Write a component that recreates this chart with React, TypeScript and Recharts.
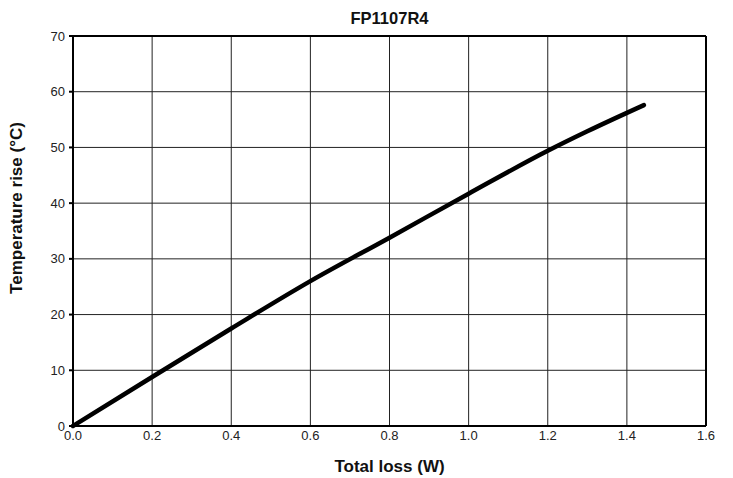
import React from "react";
import { LineChart, Line, XAxis, YAxis, CartesianGrid, ReferenceLine } from "recharts";

const lossW = [0, 0.2, 0.4, 0.6, 0.8, 1.0, 1.2, 1.3, 1.443];
const tempRise = [0, 8.8, 17.5, 26.0, 33.8, 41.7, 49.4, 52.9, 57.6];
const xTicks = [0, 0.2, 0.4, 0.6, 0.8, 1.0, 1.2, 1.4, 1.6];
const yTicks = [0, 10, 20, 30, 40, 50, 60, 70];
const title = "FP1107R4";
const xLabel = "Total loss (W)";
const yLabel = "Temperature rise (°C)";

const data = lossW.map((x, i) => ({ x, y: tempRise[i] }));
const FONT = "'Liberation Sans', Arial, sans-serif";

export default function App() {
  return (
    <div style={{ position: "absolute", left: 0, top: 0, width: 733, height: 478, background: "#fff", fontFamily: FONT }}>
      <div
        style={{
          position: "absolute",
          left: 73,
          width: 633,
          top: 8,
          lineHeight: "20px",
          textAlign: "center",
          fontWeight: "bold",
          fontSize: 16.5,
          color: "#111",
        }}
      >
        {title}
      </div>
      <LineChart width={733} height={478} data={data} margin={{ top: 36, right: 27, bottom: 0, left: 0 }}>
        <CartesianGrid stroke="#222" strokeWidth={1} horizontal vertical />
        <XAxis
          dataKey="x"
          type="number"
          domain={[0, 1.6]}
          ticks={xTicks}
          tickFormatter={(v: number) => v.toFixed(1)}
          height={52}
          stroke="#000"
          strokeWidth={2}
          tickSize={0}
          tick={{ fill: "#222", fontSize: 13, fontFamily: FONT, dy: 3 }}
          label={{
            value: xLabel,
            position: "insideBottom",
            offset: 6,
            style: { fontWeight: "bold", fontSize: 17, fill: "#111", fontFamily: FONT },
          }}
        />
        <YAxis
          type="number"
          domain={[0, 70]}
          ticks={yTicks}
          width={73}
          stroke="#000"
          strokeWidth={2}
          tickSize={4}
          tickMargin={4}
          tick={{ fill: "#222", fontSize: 13, fontFamily: FONT }}
          label={{
            content: ({ viewBox }: any) => {
              const cy = viewBox.y + viewBox.height / 2 - 23;
              return (
                <text
                  x={16}
                  y={cy}
                  transform={`rotate(-90 16 ${cy})`}
                  textAnchor="middle"
                  dominantBaseline="central"
                  style={{ fontWeight: "bold", fontSize: 17, fill: "#111", fontFamily: FONT }}
                >
                  {yLabel}
                </text>
              );
            },
          }}
        />
        <ReferenceLine x={1.6} stroke="#000" strokeWidth={2} />
        <ReferenceLine y={70} stroke="#000" strokeWidth={2} />
        <Line
          dataKey="y"
          type="monotone"
          stroke="#000"
          strokeWidth={4.5}
          strokeLinecap="round"
          dot={false}
          activeDot={false}
          isAnimationActive={false}
        />
      </LineChart>
    </div>
  );
}
